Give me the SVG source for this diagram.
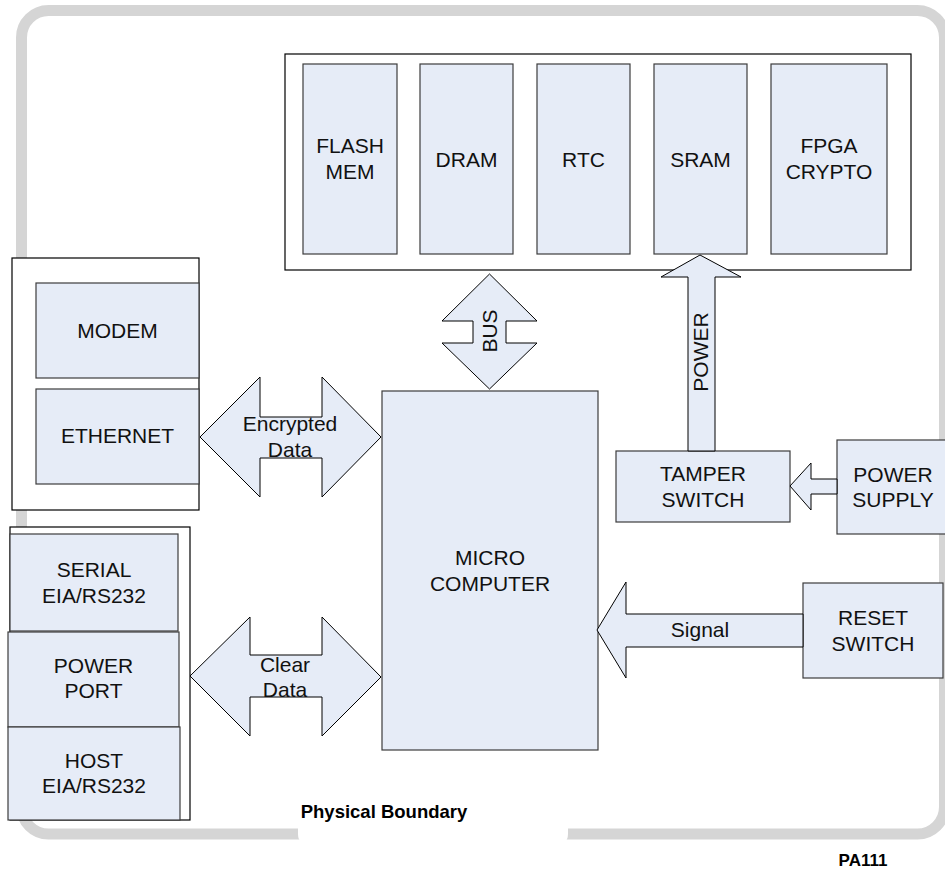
<svg xmlns="http://www.w3.org/2000/svg" width="945" height="882" viewBox="0 0 945 882">
<style>
.box{fill:#e6ecf7;stroke:#3c3c3c;stroke-width:1.2}
.cont{fill:#ffffff;stroke:#000000;stroke-width:1.2}
.arrow{fill:#e6ecf7;stroke:#000000;stroke-width:1}
.t{font-family:"Liberation Sans",Arial,sans-serif;font-size:21px;fill:#111111;text-anchor:middle}
.b{font-family:"Liberation Sans",Arial,sans-serif;font-weight:bold;fill:#000000;text-anchor:middle}
</style>
<rect width="945" height="882" fill="#ffffff"/>
<g id="physical-boundary">
<rect x="21.5" y="10.5" width="923" height="823.5" rx="27" fill="none" stroke="#d5d5d5" stroke-width="11"/>
<rect x="298" y="806" width="270" height="42" rx="14" fill="#ffffff"/>
<text class="b" x="384" y="818" font-size="18.5">Physical Boundary</text>
</g>
<g id="memory-container">
<rect class="cont" x="285" y="54" width="626" height="216"/>
</g>
<g id="flash-mem"><rect class="box" x="303" y="64" width="94" height="190"/><text class="t" x="350" y="153">FLASH</text><text class="t" x="350" y="179">MEM</text></g>
<g id="dram"><rect class="box" x="420" y="64" width="93" height="190"/><text class="t" x="466.5" y="167">DRAM</text></g>
<g id="rtc"><rect class="box" x="537" y="64" width="93" height="190"/><text class="t" x="583.5" y="167">RTC</text></g>
<g id="sram"><rect class="box" x="654" y="64" width="93" height="190"/><text class="t" x="700.5" y="167">SRAM</text></g>
<g id="fpga-crypto"><rect class="box" x="771" y="64" width="116" height="190"/><text class="t" x="829" y="153">FPGA</text><text class="t" x="829" y="179">CRYPTO</text></g>
<g id="network-container"><rect class="cont" x="12" y="258" width="187" height="252"/></g>
<g id="modem"><rect class="box" x="36" y="283" width="163" height="95"/><text class="t" x="117.5" y="338">MODEM</text></g>
<g id="ethernet"><rect class="box" x="36" y="389" width="163" height="95"/><text class="t" x="117.5" y="443">ETHERNET</text></g>
<g id="port-container"><rect class="cont" x="10" y="527" width="180" height="293"/></g>
<g id="serial"><rect class="box" x="10" y="534" width="168" height="97"/><text class="t" x="94" y="577">SERIAL</text><text class="t" x="94" y="603">EIA/RS232</text></g>
<g id="power-port"><rect class="box" x="8" y="632" width="171" height="95"/><text class="t" x="93.5" y="673">POWER</text><text class="t" x="93.5" y="698">PORT</text></g>
<g id="host"><rect class="box" x="8" y="727" width="172" height="93"/><text class="t" x="94" y="768">HOST</text><text class="t" x="94" y="793">EIA/RS232</text></g>
<g id="micro-computer"><rect class="box" x="382" y="391" width="216" height="359"/><text class="t" x="490" y="565">MICRO</text><text class="t" x="490" y="591">COMPUTER</text></g>
<g id="tamper-switch"><rect class="box" x="616" y="451" width="174" height="71"/><text class="t" x="703" y="481">TAMPER</text><text class="t" x="703" y="507">SWITCH</text></g>
<g id="power-supply"><rect class="box" x="837" y="440" width="112" height="94"/><text class="t" x="893" y="482">POWER</text><text class="t" x="893" y="507">SUPPLY</text></g>
<g id="reset-switch"><rect class="box" x="803" y="583" width="140" height="95"/><text class="t" x="873" y="625">RESET</text><text class="t" x="873" y="651">SWITCH</text></g>
<g id="connectors">
<path class="arrow" d="M200,437 L260,377 L260,417 L322,417 L322,377 L381,437 L322,497 L322,458 L260,458 L260,497 Z"/>
<text class="t" x="290" y="431">Encrypted</text><text class="t" x="290" y="457">Data</text>
<path class="arrow" d="M190,676 L250,617 L250,655 L322,655 L322,617 L381,677 L322,736 L322,697 L250,697 L250,736 Z"/>
<text class="t" x="285" y="672">Clear</text><text class="t" x="285" y="697">Data</text>
<path class="arrow" d="M489.5,274 L537,321 L506,321 L506,343 L537,343 L489.5,389 L442,343 L473,343 L473,321 L442,321 Z"/>
<text class="t" transform="translate(497,331) rotate(-90)">BUS</text>
<path class="arrow" d="M700,255 L741,277 L715,277 L715,451 L688,451 L688,277 L661,277 Z"/>
<text class="t" transform="translate(708,352) rotate(-90)">POWER</text>
<path class="arrow" d="M790,486 L811,463 L811,479 L837,479 L837,494 L811,494 L811,510 Z"/>
<path class="arrow" d="M597,630 L626,582 L626,614 L803,614 L803,647 L626,647 L626,678 Z"/>
<text class="t" x="700" y="637">Signal</text>
</g>
<text class="b" x="863" y="866" font-size="17">PA111</text>
</svg>
